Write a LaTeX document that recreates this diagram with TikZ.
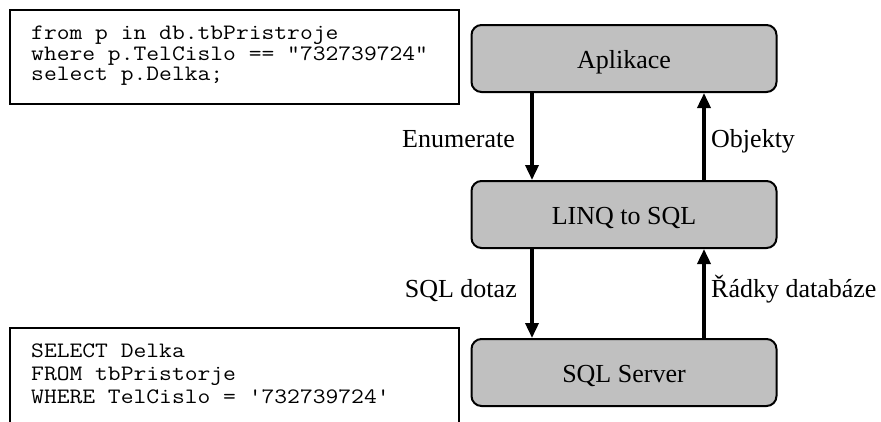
\documentclass[tikz,border=0pt]{standalone}
\usepackage{fontspec}
\setmainfont{Liberation Serif}
\setmonofont[FakeStretch=1.13]{Latin Modern Mono}
\usetikzlibrary{arrows.meta}
\definecolor{boxgray}{RGB}{192,192,192}
\begin{document}
\begin{tikzpicture}[x=1pt,y=-1pt,
  layer/.style={draw=black, line width=2pt, fill=boxgray, rounded corners=10pt,
    minimum width=305pt, minimum height=67pt, inner sep=0pt,
    text height=20pt, text depth=0pt,
    font=\fontsize{26}{30}\selectfont},
  codeframe/.style={draw=black, line width=2pt, inner sep=0pt, fill=white},
  codetext/.style={anchor=north west, inner sep=0pt, align=left},
  flow/.style={line width=3.5pt, -{Triangle[length=15pt,width=13pt]}},
  lbl/.style={inner sep=0pt, font=\fontsize{26}{30}\selectfont}]
\useasboundingbox (0,0) rectangle (881,421);
\clip (0,0) rectangle (881,421);
% code frames
\node[codeframe, minimum width=449pt, minimum height=94pt] (linqframe) at (234.5,57) {};
\node[codeframe, minimum width=449pt, minimum height=112pt] (sqlframe) at (234.5,384) {};
\node[codetext, font=\fontsize{22}{20.5}\selectfont\ttfamily] (linqcode) at (31,26)
  {from p in db.tbPristroje\\where p.TelCislo == "732739724"\\select p.Delka;};
\node[codetext, font=\fontsize{22}{23}\selectfont\ttfamily] (sqlcode) at (31,344)
  {SELECT Delka\\FROM tbPristorje\\WHERE TelCislo = '732739724'};
% layers
\node[layer] (app) at (624,58.5) {Aplikace};
\node[layer] (linq) at (624,214.5) {LINQ to SQL};
\node[layer] (sql) at (624,372.5) {SQL Server};
% arrows
\draw[flow] ([xshift=-92pt]app.south) -- ([xshift=-92pt]linq.north);
\draw[flow] ([xshift=80pt]linq.north) -- ([xshift=80pt]app.south);
\draw[flow] ([xshift=-92pt]linq.south) -- ([xshift=-92pt]sql.north);
\draw[flow] ([xshift=80pt]sql.north) -- ([xshift=80pt]linq.south);
% labels
\node[lbl, anchor=base east] (l1) at (515,147) {Enumerate};
\node[lbl, anchor=base west] (l2) at (711,147) {Objekty};
\node[lbl, anchor=base east] (l3) at (517,297) {SQL dotaz};
\node[lbl, anchor=base west] (l4) at (711,297) {Řádky databáze};
\end{tikzpicture}
\end{document}
